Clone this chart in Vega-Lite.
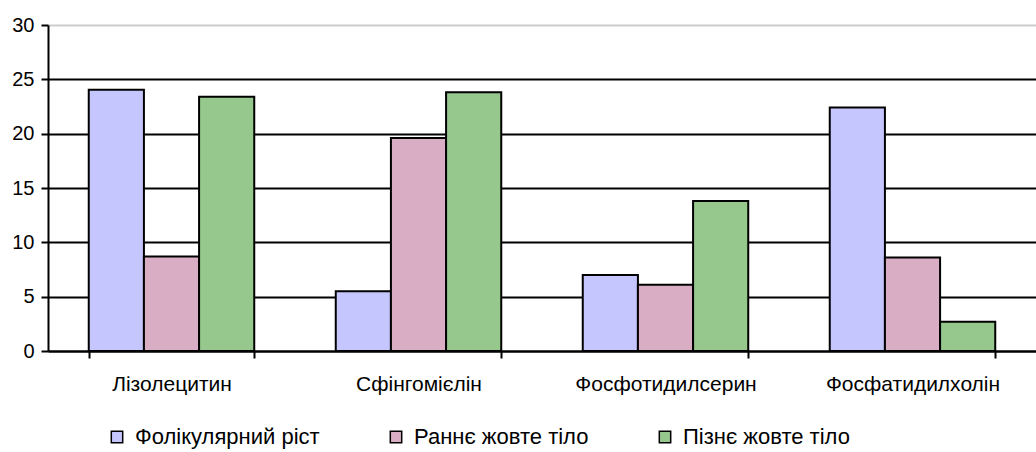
{
  "$schema": "https://vega.github.io/schema/vega-lite/v6.json",
  "width": 988,
  "height": 326,
  "autosize": {"type": "none"},
  "padding": {"left": 48, "top": 25, "right": 0, "bottom": 101},
  "background": "white",
  "config": {
    "font": "Liberation Sans",
    "view": {"stroke": null}
  },
  "data": {
    "values": [
      {"cat": "Лізолецитин", "series": "Фолікулярний ріст", "value": 24.05},
      {"cat": "Лізолецитин", "series": "Раннє жовте тіло", "value": 8.7},
      {"cat": "Лізолецитин", "series": "Пізнє жовте тіло", "value": 23.4},
      {"cat": "Сфінгомієлін", "series": "Фолікулярний ріст", "value": 5.5},
      {"cat": "Сфінгомієлін", "series": "Раннє жовте тіло", "value": 19.6},
      {"cat": "Сфінгомієлін", "series": "Пізнє жовте тіло", "value": 23.8},
      {"cat": "Фосфотидилсерин", "series": "Фолікулярний ріст", "value": 7.0},
      {"cat": "Фосфотидилсерин", "series": "Раннє жовте тіло", "value": 6.1},
      {"cat": "Фосфотидилсерин", "series": "Пізнє жовте тіло", "value": 13.8},
      {"cat": "Фосфатидилхолін", "series": "Фолікулярний ріст", "value": 22.4},
      {"cat": "Фосфатидилхолін", "series": "Раннє жовте тіло", "value": 8.6},
      {"cat": "Фосфатидилхолін", "series": "Пізнє жовте тіло", "value": 2.7}
    ]
  },
  "mark": {"type": "bar", "stroke": "black", "strokeWidth": 2, "opacity": 1},
  "encoding": {
    "x": {
      "field": "cat",
      "type": "nominal",
      "sort": ["Лізолецитин", "Сфінгомієлін", "Фосфотидилсерин", "Фосфатидилхолін"],
      "scale": {"paddingInner": 0.33, "paddingOuter": 0.165},
      "axis": {
        "title": null,
        "labelAngle": 0,
        "labelFontSize": 21,
        "labelColor": "black",
        "labelPadding": 15,
        "labelLimit": 400,
        "labelOverlap": false,
        "tickBand": "extent",
        "tickSize": 7,
        "tickColor": "black",
        "tickWidth": 2,
        "domainColor": "black",
        "domainWidth": 2,
        "grid": false
      }
    },
    "xOffset": {
      "field": "series",
      "type": "nominal",
      "sort": ["Фолікулярний ріст", "Раннє жовте тіло", "Пізнє жовте тіло"],
      "scale": {"paddingInner": 0, "paddingOuter": 0}
    },
    "y": {
      "field": "value",
      "type": "quantitative",
      "scale": {"domain": [0, 30], "nice": false},
      "axis": {
        "title": null,
        "values": [0, 5, 10, 15, 20, 25, 30],
        "labelFontSize": 20,
        "labelColor": "black",
        "labelPadding": 7,
        "tickSize": 7,
        "tickColor": "black",
        "tickWidth": 2,
        "domainColor": "black",
        "domainWidth": 2,
        "grid": true,
        "gridColor": {"condition": {"test": "datum.value == 30", "value": "#cccccc"}, "value": "black"},
        "gridWidth": 2,
        "gridOpacity": 1
      }
    },
    "fill": {
      "field": "series",
      "type": "nominal",
      "sort": ["Фолікулярний ріст", "Раннє жовте тіло", "Пізнє жовте тіло"],
      "scale": {
        "domain": ["Фолікулярний ріст", "Раннє жовте тіло", "Пізнє жовте тіло"],
        "range": ["#c6c6ff", "#d9adc3", "#96c78c"]
      },
      "legend": {
        "title": null,
        "orient": "none",
        "direction": "horizontal",
        "columns": 3,
        "gridAlign": "none",
        "columnPadding": 65,
        "legendX": 58,
        "legendY": 401,
        "padding": 0,
        "symbolType": "square",
        "symbolSize": 130,
        "symbolStrokeColor": "black",
        "symbolStrokeWidth": 1.5,
        "symbolOpacity": 1,
        "labelFontSize": 22,
        "labelColor": "black",
        "labelOffset": 7,
        "labelLimit": 400
      }
    }
  }
}
